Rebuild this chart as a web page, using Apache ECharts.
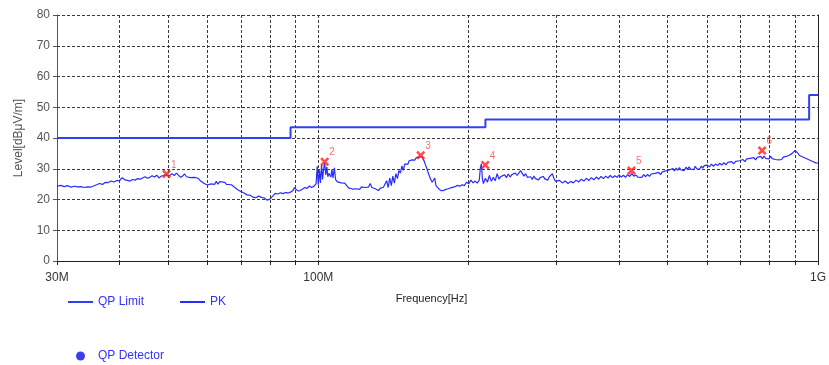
<!DOCTYPE html>
<html>
<head>
<meta charset="utf-8">
<title>Radiated Emission 30M-1G</title>
<script src="https://cdn.jsdelivr.net/npm/echarts@6/dist/echarts.min.js"></script>
<style>
  html, body { margin: 0; padding: 0; background: #ffffff; }
  #chart { width: 829px; height: 365px; }
</style>
</head>
<body>
<div id="chart"></div>
<script>
// Frequency axis (MHz): labelled ticks and grid/tick positions
const xLabelFreqs = [30, 100, 1000];
const xGridFreqs = [30, 40, 50, 60, 70, 80, 90, 100, 200, 300, 400, 500, 600, 700, 800, 900, 1000];

// QP limit steps [MHz, dBμV/m]
const qpLimit = [[30, 40], [88, 43.5], [216, 46], [960, 54], [1000, 54]];

// Peak-detector sweep [MHz, dBμV/m]
const pkTrace = [
  [30,24.3],[30.5,24.6],[31,24.2],[31.5,24.5],[32,24.0],[32.5,24.3],[33,24.1],[33.5,24.2],[34,23.9],[34.5,24.1],
  [35,24.0],[35.5,24.4],[36,24.8],[36.5,25.2],[37,24.9],[37.5,25.6],[38,25.5],[38.5,26.0],[39,25.7],[39.5,26.2],
  [40,26.1],[40.5,27.1],[41,26.4],[41.5,26.2],[42,26.0],[42.5,26.5],[43,26.3],[43.5,26.8],[44,26.6],[44.5,27.0],
  [45,27.4],[45.5,26.9],[46,27.2],[46.5,27.7],[47,27.3],[47.5,27.9],[48,27.0],[48.5,27.6],[49,27.8],[49.5,28.1],
  [50,27.6],[50.5,27.9],[51,28.4],[51.5,27.8],[52,28.6],[52.5,27.9],[53,27.2],[53.5,27.6],[54,28.3],[54.5,27.4],
  [55,26.8],[55.5,27.1],[56,27.6],[56.5,27.2],[57,26.7],[57.5,26.9],[58,26.2],[58.5,25.8],[59,25.3],[59.5,25.0],
  [60,24.7],[61,25.1],[62,24.9],[62.5,25.9],[63,25.0],[63.5,25.8],[64,25.3],[65,25.6],[65.5,24.9],[66,25.2],
  [67,24.8],[68,24.0],[69,23.2],[70,22.6],[70.5,22.8],[71,22.1],[72,21.5],[72.5,20.9],[73,21.4],[74,20.8],
  [74.5,21.3],[75,20.6],[76,21.1],[77,20.7],[77.5,20.2],[78,20.5],[79,19.8],[79.5,20.3],[80,20.1],[81,21.0],
  [82,22.0],[83,21.8],[84,22.2],[85,21.9],[86,22.3],[87,22.1],[88,22.4],[89,22.9],[89.5,23.8],[90,23.3],
  [91,22.8],[92,22.9],[93,23.4],[94,23.9],[95,23.6],[96,24.4],[97,23.9],[98,24.3],[99,25.2],[99.5,30.8],
  [100,24.8],[100.5,29.5],[101,25.4],[101.5,31.3],[102,26.5],[102.5,30.0],[103,31.8],[103.5,28.0],[104,30.6],[104.5,27.4],
  [105,28.5],[106,27.3],[106.5,29.8],[107,27.0],[107.7,30.3],[108.3,26.5],[109,25.8],[110,26.2],[111,25.4],[112,24.9],
  [113,25.3],[114,24.5],[115,23.8],[116,24.2],[117,23.4],[118,23.0],[119,23.5],[120,23.8],[121,23.3],[122,24.1],
  [123,24.6],[124,23.9],[125,24.4],[126,24.0],[127,25.2],[128,23.9],[129,23.3],[130,23.5],[131,23.1],[132,22.9],
  [133,23.6],[134,23.2],[135,24.0],[136,23.5],[137,26.1],[138,23.9],[139,27.0],[140,24.5],[141,27.6],[142,25.3],
  [143,28.4],[144,26.8],[145,29.4],[146,28.6],[147,30.9],[148,29.5],[149,31.6],[150,32.2],[151,31.4],[152,32.6],
  [153,32.0],[154,32.9],[155,33.3],[156,32.8],[157,33.6],[158,33.1],[159,33.8],[160,33.6],[161,33.9],[162,33.2],
  [163,32.4],[164,31.1],[165,30.0],[166,28.6],[167,27.5],[168,26.4],[169,25.6],[170,25.0],[171,27.0],[172,24.5],
  [173,24.0],[174,23.6],[175,23.2],[176,22.9],[177,22.4],[178,22.9],[179,22.5],[180,23.3],[181,23.8],[182,23.5],
  [183,24.1],[184,23.8],[185,24.3],[186,24.0],[187,24.5],[188,24.2],[190,24.6],[192,24.3],[194,24.8],[196,24.5],
  [198,25.6],[200,25.1],[202,26.3],[204,25.4],[206,26.0],[208,25.3],[210,26.4],[211,30.2],[212,31.6],[213,26.8],
  [214,25.2],[216,26.9],[218,25.6],[220,27.8],[222,25.9],[224,27.2],[226,26.1],[228,28.4],[230,26.6],[232,27.5],
  [234,26.9],[236,28.0],[238,27.1],[240,28.3],[242,27.3],[244,28.1],[246,27.5],[248,28.6],[250,27.8],[252,28.2],
  [254,29.4],[256,29.8],[258,27.6],[260,28.4],[262,27.2],[264,26.6],[266,27.4],[268,26.5],[270,27.6],[272,26.8],
  [274,27.3],[276,26.4],[278,27.1],[280,26.6],[282,27.5],[284,26.7],[286,27.0],[288,26.3],[290,27.4],[292,26.8],
  [294,28.4],[296,27.0],[298,26.0],[300,25.6],[304,26.2],[308,25.4],[312,26.0],[316,25.2],[320,25.9],[324,25.4],
  [328,26.3],[332,25.7],[336,26.6],[340,26.0],[344,26.9],[348,26.2],[352,27.1],[356,26.4],[360,27.3],[364,26.6],
  [368,27.5],[372,26.8],[376,27.6],[380,27.0],[384,27.8],[388,27.1],[392,27.7],[396,27.2],[400,28.0],[404,27.3],
  [408,27.9],[412,27.2],[416,28.1],[420,27.5],[424,28.4],[428,27.6],[432,28.0],[436,27.3],[440,27.9],[444,27.2],
  [448,28.1],[452,27.4],[456,28.2],[460,27.5],[464,28.3],[468,27.7],[472,28.5],[476,27.9],[480,28.8],[484,28.1],
  [488,29.0],[492,28.4],[496,29.3],[500,28.7],[504,29.6],[508,29.0],[512,30.1],[516,29.3],[520,30.2],[524,29.5],
  [528,30.4],[532,29.6],[536,30.1],[540,29.4],[544,30.5],[548,29.8],[552,30.6],[556,29.9],[560,30.4],[564,29.7],
  [568,30.8],[572,30.0],[576,30.6],[580,29.9],[584,30.9],[588,30.2],[592,31.0],[596,30.4],[600,31.2],[606,30.6],
  [612,31.5],[618,30.8],[624,31.6],[630,31.0],[636,31.8],[642,31.2],[648,32.0],[654,31.3],[660,32.1],[666,31.5],
  [672,32.3],[678,31.6],[684,32.4],[690,31.8],[696,32.6],[702,32.1],[708,33.0],[714,32.3],[720,33.2],[726,32.6],
  [732,33.4],[738,32.8],[744,33.6],[750,32.9],[756,33.7],[762,33.1],[768,34.0],[774,33.3],[780,34.1],[786,33.4],
  [792,33.9],[798,33.2],[804,34.0],[810,33.3],[816,33.8],[822,33.0],[828,33.6],[834,32.9],[840,33.5],[846,33.0],
  [852,33.8],[858,33.2],[864,34.0],[870,33.5],[876,34.4],[882,34.0],[888,35.0],[894,35.4],[900,36.0],[906,35.6],
  [912,35.0],[918,34.3],[924,34.8],[930,33.9],[936,34.3],[942,33.5],[948,33.9],[954,33.1],[960,33.5],[966,32.7],
  [972,33.0],[978,32.3],[984,32.6],[990,31.9],[996,32.2],[1000,31.8]
];

// Marked peaks
const peakFreq = [49.7, 103.0, 160.3, 215.8, 423.4, 773.0];
const peakLevel = [28.3, 32.3, 34.4, 31.2, 29.4, 35.9];
const peakNames = ['1', '2', '3', '4', '5', '6'];

// QP detector readings (none recorded)
const qpDetector = [];

const FONT = '"Liberation Sans", Arial, sans-serif';
const crossSymbol = 'path://M2,0 L5,3 L8,0 L10,2 L7,5 L10,8 L8,10 L5,7 L2,10 L0,8 L3,5 L0,2 Z';

function freqLabel(v) {
  if (v >= 1000) return (v / 1000) + 'G';
  return v + 'M';
}

const gridLineStyle = { color: '#3a3a3a', width: 1, type: [3, 2] };

const chart = echarts.init(document.getElementById('chart'), null, { renderer: 'canvas' });

chart.setOption({
  animation: false,
  backgroundColor: '#ffffff',
  grid: { left: 57, right: 9, top: 15, bottom: 104, containLabel: false },
  xAxis: {
    type: 'log',
    logBase: 10,
    min: 30,
    max: 1000,
    name: 'Frequency[Hz]',
    nameLocation: 'middle',
    nameGap: 32,
    nameTextStyle: { color: '#222', fontSize: 11, fontFamily: FONT, padding: [0, 12, 0, 0] },
    axisLine: { show: true, lineStyle: { color: '#222', width: 1 } },
    axisTick: { show: true, length: 4, customValues: xGridFreqs, lineStyle: { color: '#222' } },
    axisLabel: {
      customValues: xLabelFreqs,
      formatter: freqLabel,
      color: '#333',
      fontSize: 12,
      fontFamily: FONT,
      margin: 11
    },
    splitLine: { show: true, lineStyle: gridLineStyle },
    minorTick: { show: false },
    minorSplitLine: { show: false }
  },
  yAxis: [
    {
      type: 'value',
      min: 0,
      max: 80,
      interval: 10,
      name: 'Level[dBμV/m]',
      nameLocation: 'middle',
      nameRotate: 90,
      nameGap: 32,
      nameTextStyle: { color: '#555', fontSize: 12, fontFamily: FONT },
      axisLine: { show: true, lineStyle: { color: '#555', width: 1 } },
      axisTick: { show: true, length: 4, lineStyle: { color: '#555' } },
      axisLabel: { color: '#555', fontSize: 12, fontFamily: FONT, margin: 7 },
      splitLine: { show: true, lineStyle: gridLineStyle }
    },
    {
      type: 'value',
      position: 'right',
      min: 0,
      max: 80,
      interval: 10,
      axisLine: { show: true, lineStyle: { color: '#222', width: 1 } },
      axisTick: { show: false },
      axisLabel: { show: false },
      splitLine: { show: false }
    }
  ],
  legend: [
    {
      data: ['QP Limit', 'PK'],
      left: 63,
      top: 291,
      icon: 'rect',
      itemWidth: 25,
      itemHeight: 2,
      itemGap: 36,
      textStyle: { color: '#3333ff', fontSize: 12, fontFamily: FONT },
      selectedMode: false
    },
    {
      data: ['QP Detector'],
      left: 71,
      top: 345,
      icon: 'circle',
      itemWidth: 25,
      itemHeight: 9,
      textStyle: { color: '#3333ff', fontSize: 12, fontFamily: FONT },
      selectedMode: false
    }
  ],
  series: [
    {
      name: 'QP Limit',
      type: 'line',
      step: 'end',
      data: qpLimit,
      showSymbol: false,
      symbol: 'none',
      color: '#3040f0',
      lineStyle: { color: '#3040f0', width: 2 },
      z: 3
    },
    {
      name: 'PK',
      type: 'line',
      data: pkTrace,
      showSymbol: false,
      symbol: 'none',
      color: '#2b2bff',
      lineStyle: { color: '#2b2bff', width: 1.2 },
      z: 2
    },
    {
      name: 'QP Detector',
      type: 'scatter',
      data: qpDetector,
      symbol: 'circle',
      color: '#0c0cea'
    },
    {
      name: 'Peaks',
      type: 'scatter',
      data: peakFreq.map((f, i) => ({ value: [f, peakLevel[i]], name: peakNames[i] })),
      symbol: crossSymbol,
      symbolSize: 9,
      itemStyle: { color: '#ff1e1e' },
      label: {
        show: true,
        formatter: p => p.name,
        position: 'right',
        offset: [-5, -9],
        color: '#ff4a4a',
        fontSize: 10,
        fontFamily: FONT
      },
      z: 5
    }
  ]
});
</script>
</body>
</html>
